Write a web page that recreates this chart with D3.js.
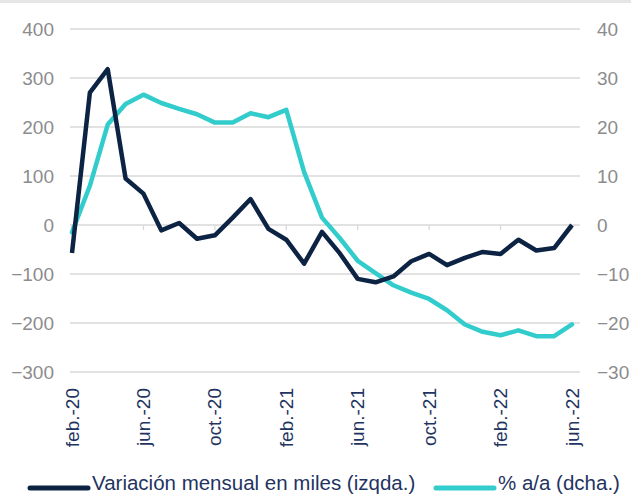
<!DOCTYPE html>
<html>
<head>
<meta charset="utf-8">
<script src="https://cdn.jsdelivr.net/npm/d3@7"></script>
<style>
  body { margin: 0; background: #fff; }
  svg { display: block; font-family: Arial, "Liberation Sans", sans-serif; }
</style>
</head>
<body>
<div id="chart"></div>
<script>
// Months, feb.-20 .. jun.-22
var months = ["feb.-20","mar.-20","abr.-20","may.-20","jun.-20","jul.-20","ago.-20","sep.-20",
  "oct.-20","nov.-20","dic.-20","ene.-21","feb.-21","mar.-21","abr.-21","may.-21","jun.-21",
  "jul.-21","ago.-21","sep.-21","oct.-21","nov.-21","dic.-21","ene.-22","feb.-22","mar.-22",
  "abr.-22","may.-22","jun.-22"];

// Variación mensual en miles (left axis)
var monthly = [-57, 270, 318, 95, 64, -11, 4, -28, -21, 15, 53, -8, -30, -79, -14, -58,
  -110, -117, -105, -74, -59, -82, -67, -55, -59, -30, -52, -47, 0];

// % a/a (right axis)
var yoy = [-1.5, 8, 20.5, 24.7, 26.6, 24.9, 23.7, 22.6, 20.9, 20.9, 22.8, 22.0, 23.5, 10.8,
  1.5, -2.7, -7.3, -9.8, -12.3, -13.8, -15.1, -17.4, -20.3, -21.8, -22.5, -21.5, -22.7, -22.7, -20.3];

var leftTicks = [400, 300, 200, 100, 0, -100, -200, -300];
var rightTicks = [40, 30, 20, 10, 0, -10, -20, -30];
var shownMonths = ["feb.-20","jun.-20","oct.-20","feb.-21","jun.-21","oct.-21","feb.-22","jun.-22"];

var seriesNames = ["Variación mensual en miles (izqda.)", "% a/a (dcha.)"];

var width = 631, height = 495;
var navy = "#0d2344", teal = "#33cccc";
var gridColor = "#d9d9d9", tickText = "#8c8c8c", labelText = "#1f3461";

var svg = d3.select("#chart").append("svg")
  .attr("width", width)
  .attr("height", height);

// thin gray strip at the top
svg.append("rect").attr("x", 0).attr("y", 0).attr("width", width).attr("height", 3).attr("fill", "#e6e6e6");

var xScale = d3.scalePoint().domain(months).range([72, 572]);
var yLeft = d3.scaleLinear().domain([-300, 400]).range([372, 29]);
var yRight = d3.scaleLinear().domain([-30, 40]).range([372, 29]);

// gridlines
svg.append("g").selectAll("line").data(leftTicks).enter().append("line")
  .attr("x1", 70).attr("x2", 580)
  .attr("y1", function(d) { return yLeft(d); })
  .attr("y2", function(d) { return yLeft(d); })
  .attr("stroke", gridColor).attr("stroke-width", 1.3);

// left axis labels
var leftAxis = d3.axisLeft(yLeft).tickValues(leftTicks).tickSize(0).tickPadding(0);
var gl = svg.append("g").attr("transform", "translate(54,0)").call(leftAxis);
gl.select(".domain").remove();
gl.selectAll("text").attr("fill", tickText).style("font-size", "19px").style("font-family", "Arial, 'Liberation Sans', sans-serif");

// right axis labels
var rightAxis = d3.axisRight(yRight).tickValues(rightTicks).tickSize(0).tickPadding(0);
var gr = svg.append("g").attr("transform", "translate(597,0)").call(rightAxis);
gr.select(".domain").remove();
gr.selectAll("text").attr("fill", tickText).style("font-size", "19px").style("font-family", "Arial, 'Liberation Sans', sans-serif");

// small tick marks on the zero line
svg.append("g").selectAll("line").data(shownMonths).enter().append("line")
  .attr("x1", function(d) { return xScale(d); })
  .attr("x2", function(d) { return xScale(d); })
  .attr("y1", yLeft(0)).attr("y2", yLeft(0) + 5)
  .attr("stroke", gridColor).attr("stroke-width", 1.3);

// x labels, rotated
svg.append("g").selectAll("text").data(shownMonths).enter().append("text")
  .attr("transform", function(d) { return "translate(" + (xScale(d) + 6.5) + ",388)rotate(-90)"; })
  .attr("text-anchor", "end")
  .attr("fill", labelText)
  .style("font-size", "19px")
  .text(function(d) { return d; });

// lines
var lineLeft = d3.line()
  .x(function(d, i) { return xScale(months[i]); })
  .y(function(d) { return yLeft(d); });
var lineRight = d3.line()
  .x(function(d, i) { return xScale(months[i]); })
  .y(function(d) { return yRight(d); });

svg.append("path").datum(yoy)
  .attr("d", lineRight)
  .attr("fill", "none").attr("stroke", teal).attr("stroke-width", 4.5)
  .attr("stroke-linejoin", "round").attr("stroke-linecap", "round");

svg.append("path").datum(monthly)
  .attr("d", lineLeft)
  .attr("fill", "none").attr("stroke", navy).attr("stroke-width", 4.5)
  .attr("stroke-linejoin", "round");

// legend
var legend = svg.append("g");
var legendItems = [
  { name: seriesNames[0], color: navy, x1: 30, x2: 88, tx: 92 },
  { name: seriesNames[1], color: teal, x1: 436, x2: 494, tx: 498 }
];
legendItems.forEach(function(it) {
  legend.append("line")
    .attr("x1", it.x1).attr("x2", it.x2).attr("y1", 488).attr("y2", 488)
    .attr("stroke", it.color).attr("stroke-width", 5).attr("stroke-linecap", "round");
  legend.append("text")
    .attr("x", it.tx).attr("y", 490)
    .attr("fill", labelText)
    .style("font-size", "20.5px")
    .text(it.name);
});
</script>
</body>
</html>
